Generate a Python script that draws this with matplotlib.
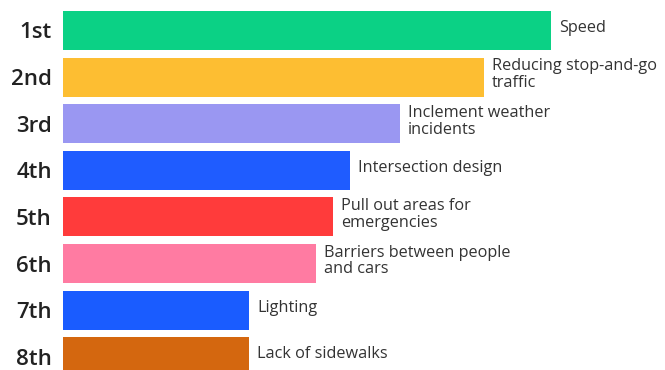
import matplotlib
matplotlib.use("Agg")
import matplotlib.pyplot as plt

ranks = ["1st", "2nd", "3rd", "4th", "5th", "6th", "7th", "8th"]
factors = [
    "Speed",
    "Reducing stop-and-go\ntraffic",
    "Inclement weather\nincidents",
    "Intersection design",
    "Pull out areas for\nemergencies",
    "Barriers between people\nand cars",
    "Lighting",
    "Lack of sidewalks",
]
scores = [488, 421, 337, 287, 270, 253, 186, 186]
colors = ["#0BD185", "#FDBE32", "#9A97F2", "#1F5CFF", "#FF3B3B",
          "#FF7BA2", "#1A5CFF", "#D4670F"]

W, H = 665, 370
fig = plt.figure(figsize=(W / 100, H / 100), dpi=100)
left_px = 63
ax = fig.add_axes([left_px / W, 0, (W - left_px) / W, 1])

pitch = 46.6
top_center = 30.5
ax.set_xlim(0, W - left_px)
ax.set_ylim((H - top_center) / pitch, -top_center / pitch)

ypos = list(range(len(ranks)))
ax.barh(ypos, scores, height=39 / pitch, color=colors, edgecolor="none")

for y, s, lab in zip(ypos, scores, factors):
    ax.text(s + 8, y - 0.05, lab, va="center", ha="left", fontsize=11.7,
            color="#333333", family="Open Sans", linespacing=1.05)

ax.set_yticks(ypos)
ax.set_yticklabels(ranks, fontsize=16, fontweight="semibold",
                   family="Open Sans", color="#222222")
ax.tick_params(axis="y", length=0, pad=8)
ax.set_xticks([])
for sp in ax.spines.values():
    sp.set_visible(False)

fig.savefig("out.png", dpi=100, facecolor="white")
